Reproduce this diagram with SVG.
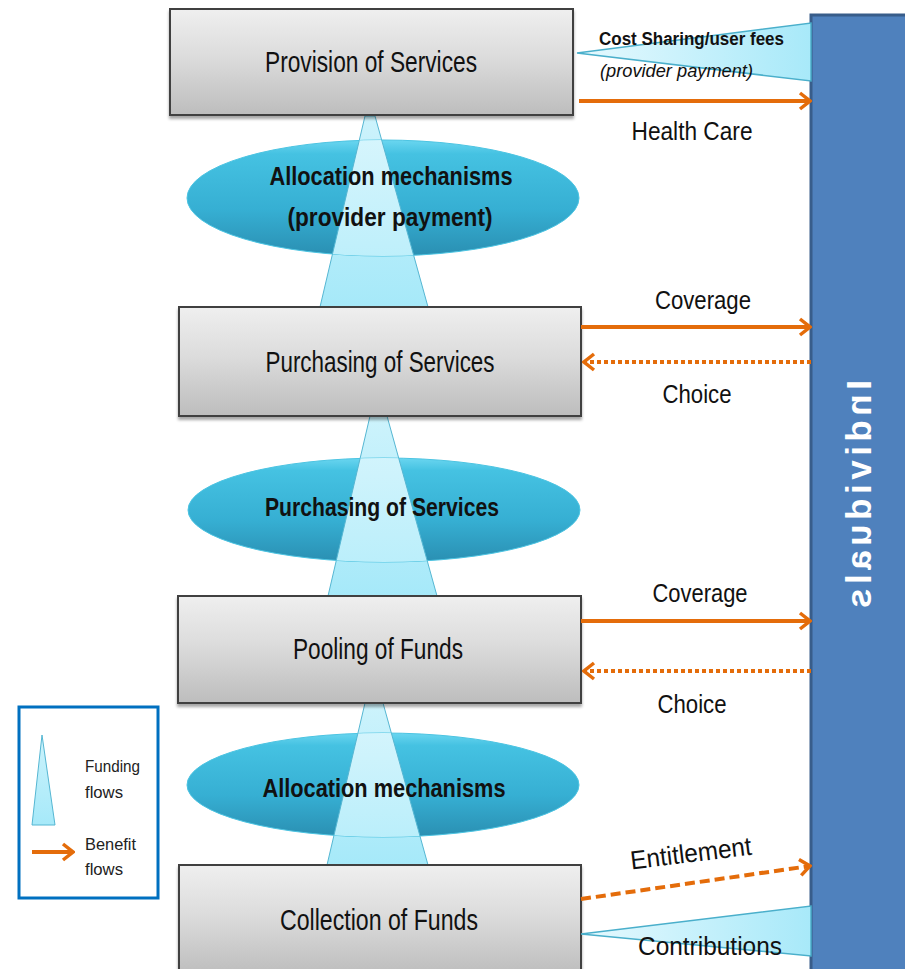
<svg xmlns="http://www.w3.org/2000/svg" width="905" height="969" viewBox="0 0 905 969">
  <defs>
    <linearGradient id="boxFill" x1="0" y1="0" x2="0" y2="1">
      <stop offset="0" stop-color="#EFEFEF"/>
      <stop offset="0.45" stop-color="#DCDCDC"/>
      <stop offset="1" stop-color="#BDBDBD"/>
    </linearGradient>
    <linearGradient id="ovalFill" x1="0" y1="0" x2="0" y2="1">
      <stop offset="0" stop-color="#6AD6F0"/>
      <stop offset="0.12" stop-color="#45C2E2"/>
      <stop offset="0.6" stop-color="#36AFD3"/>
      <stop offset="1" stop-color="#2A8FB2"/>
    </linearGradient>
    <linearGradient id="fundFill" x1="0" y1="0" x2="0" y2="1">
      <stop offset="0" stop-color="#CDF3FC"/>
      <stop offset="1" stop-color="#A6E9F9"/>
    </linearGradient>
    <linearGradient id="fundLight" x1="0" y1="0" x2="0" y2="1">
      <stop offset="0" stop-color="#DAF6FD"/>
      <stop offset="1" stop-color="#B4EDFA"/>
    </linearGradient>
    <linearGradient id="wedgeFill" x1="0" y1="0" x2="1" y2="0">
      <stop offset="0" stop-color="#E6F9FE"/>
      <stop offset="1" stop-color="#A8E9F9"/>
    </linearGradient>
    <clipPath id="clipOval1"><ellipse cx="383" cy="198" rx="196" ry="58"/></clipPath>
    <clipPath id="clipOval2"><ellipse cx="384" cy="510" rx="196" ry="52"/></clipPath>
    <clipPath id="clipOval3"><ellipse cx="383" cy="785" rx="196" ry="52"/></clipPath>
    <marker id="chev" viewBox="0 0 14 20" markerWidth="14" markerHeight="20" refX="12" refY="10" orient="auto" markerUnits="userSpaceOnUse">
      <path d="M2,2 L12,10 L2,18" fill="none" stroke="#E46C0A" stroke-width="3.5"/>
    </marker>
    <filter id="shadow" x="-5%" y="-5%" width="110%" height="120%">
      <feDropShadow dx="0" dy="3" stdDeviation="1.5" flood-color="#000" flood-opacity="0.35"/>
    </filter>
  </defs>
  <style>
    .box { fill: url(#boxFill); stroke: #3F3F3F; stroke-width: 2; filter: url(#shadow); }
    .oval { fill: url(#ovalFill); stroke: #4CC4E2; stroke-width: 1; }
    .fund { fill: url(#fundFill); stroke: #55B6D2; stroke-width: 1; }
    .fund-in { fill: url(#fundLight); stroke: #55B6D2; stroke-width: 1; }
    .wedge { fill: url(#wedgeFill); stroke: #4AAFCB; stroke-width: 1.5; }
    .benefit { fill: none; stroke: #E46C0A; stroke-width: 4; marker-end: url(#chev); }
    .dotted { stroke-dasharray: 4 3; }
    .dashed { stroke-dasharray: 10 5; }
    text { font-family: "Liberation Sans", Arial, sans-serif; fill: #111; }
    .lbl { font-size: 29px; text-anchor: middle; }
    .mech { font-size: 26px; font-weight: bold; text-anchor: middle; }
    .flow { font-size: 26px; text-anchor: middle; }
    .small { font-size: 17px; fill: #222; }
  </style>

  <!-- funding flows between the levels -->
  <g id="funding-flows">
    <polygon class="fund" points="365,116 375,116 428,307 320,307"/>
    <polygon class="fund" points="370,416 387,416 437,596 328,596"/>
    <polygon class="fund" points="365,703 383,703 428,865 327,865"/>
  </g>

  <g id="provision">
    <rect class="box" x="170" y="9" width="403" height="106"/>
    <text class="lbl" x="371" y="72" textLength="212" lengthAdjust="spacingAndGlyphs">Provision of Services</text>
  </g>
  <g id="purchasing">
    <rect class="box" x="179" y="307" width="402" height="109"/>
    <text class="lbl" x="380" y="372" textLength="229" lengthAdjust="spacingAndGlyphs">Purchasing of Services</text>
  </g>
  <g id="pooling">
    <rect class="box" x="178" y="596" width="403" height="107"/>
    <text class="lbl" x="378" y="659" textLength="170" lengthAdjust="spacingAndGlyphs">Pooling of Funds</text>
  </g>
  <g id="collection">
    <rect class="box" x="179" y="865" width="402" height="110"/>
    <text class="lbl" x="379" y="930" textLength="198" lengthAdjust="spacingAndGlyphs">Collection of Funds</text>
  </g>

  <!-- mechanism ovals; the funding flow shows through each one -->
  <g id="mech-provider-payment">
    <ellipse class="oval" cx="383" cy="198" rx="196" ry="58"/>
    <polygon class="fund-in" clip-path="url(#clipOval1)" points="365,116 375,116 428,307 320,307"/>
    <text class="mech" x="391" y="185" textLength="243" lengthAdjust="spacingAndGlyphs">Allocation mechanisms</text>
    <text class="mech" x="390" y="226" textLength="205" lengthAdjust="spacingAndGlyphs">(provider payment)</text>
  </g>
  <g id="mech-purchasing">
    <ellipse class="oval" cx="384" cy="510" rx="196" ry="52"/>
    <polygon class="fund-in" clip-path="url(#clipOval2)" points="370,416 387,416 437,596 328,596"/>
    <text class="mech" x="382" y="516" textLength="234" lengthAdjust="spacingAndGlyphs">Purchasing of Services</text>
  </g>
  <g id="mech-allocation">
    <ellipse class="oval" cx="383" cy="785" rx="196" ry="52"/>
    <polygon class="fund-in" clip-path="url(#clipOval3)" points="365,703 383,703 428,865 327,865"/>
    <text class="mech" x="384" y="797" textLength="243" lengthAdjust="spacingAndGlyphs">Allocation mechanisms</text>
  </g>

  <g id="individuals">
    <rect x="811" y="15" width="96" height="960" fill="#4F81BD" stroke="#385D8A" stroke-width="3"/>
    <text transform="matrix(0 1 1 0 871 380)" font-size="35" font-weight="bold" textLength="228" lengthAdjust="spacing" style="fill:#FFFFFF">Individuals</text>
  </g>

  <!-- benefit and payment flows to and from individuals -->
  <g id="connectors">
    <polygon class="wedge" points="577,53 811,23 811,81"/>
    <text x="599" y="45" font-size="18" font-weight="bold" textLength="185" lengthAdjust="spacingAndGlyphs">Cost Sharing/user fees</text>
    <text x="600" y="77" font-size="19" font-style="italic" textLength="153" lengthAdjust="spacingAndGlyphs">(provider payment)</text>

    <line class="benefit" x1="579" y1="101" x2="810" y2="101"/>
    <text class="flow" x="692" y="140" textLength="121" lengthAdjust="spacingAndGlyphs">Health Care</text>

    <line class="benefit" x1="581" y1="327" x2="810" y2="327"/>
    <text class="flow" x="703" y="309" textLength="96" lengthAdjust="spacingAndGlyphs">Coverage</text>
    <line class="benefit dotted" x1="811" y1="362" x2="584" y2="362"/>
    <text class="flow" x="697" y="403" textLength="69" lengthAdjust="spacingAndGlyphs">Choice</text>

    <line class="benefit" x1="581" y1="621" x2="810" y2="621"/>
    <text class="flow" x="700" y="602" textLength="95" lengthAdjust="spacingAndGlyphs">Coverage</text>
    <line class="benefit dotted" x1="811" y1="671" x2="584" y2="671"/>
    <text class="flow" x="692" y="713" textLength="69" lengthAdjust="spacingAndGlyphs">Choice</text>

    <line class="benefit dashed" x1="581" y1="899" x2="810" y2="866"/>
    <text class="flow" transform="translate(692 862) rotate(-7)" x="0" y="0" textLength="122" lengthAdjust="spacingAndGlyphs">Entitlement</text>

    <polygon class="wedge" points="581,934 811,906 811,956"/>
    <text class="flow" x="710" y="955" textLength="144" lengthAdjust="spacingAndGlyphs">Contributions</text>
  </g>

  <g id="legend">
    <rect x="19" y="707" width="139" height="191" fill="#FFFFFF" stroke="#0070C0" stroke-width="3"/>
    <polygon class="fund" points="42,735 55,825 32,825"/>
    <text class="small" x="85" y="772" textLength="55" lengthAdjust="spacingAndGlyphs">Funding</text>
    <text class="small" x="85" y="798" textLength="38" lengthAdjust="spacingAndGlyphs">flows</text>
    <line class="benefit" x1="32" y1="852" x2="73" y2="852"/>
    <text class="small" x="85" y="850" textLength="51" lengthAdjust="spacingAndGlyphs">Benefit</text>
    <text class="small" x="85" y="875" textLength="38" lengthAdjust="spacingAndGlyphs">flows</text>
  </g>
</svg>
